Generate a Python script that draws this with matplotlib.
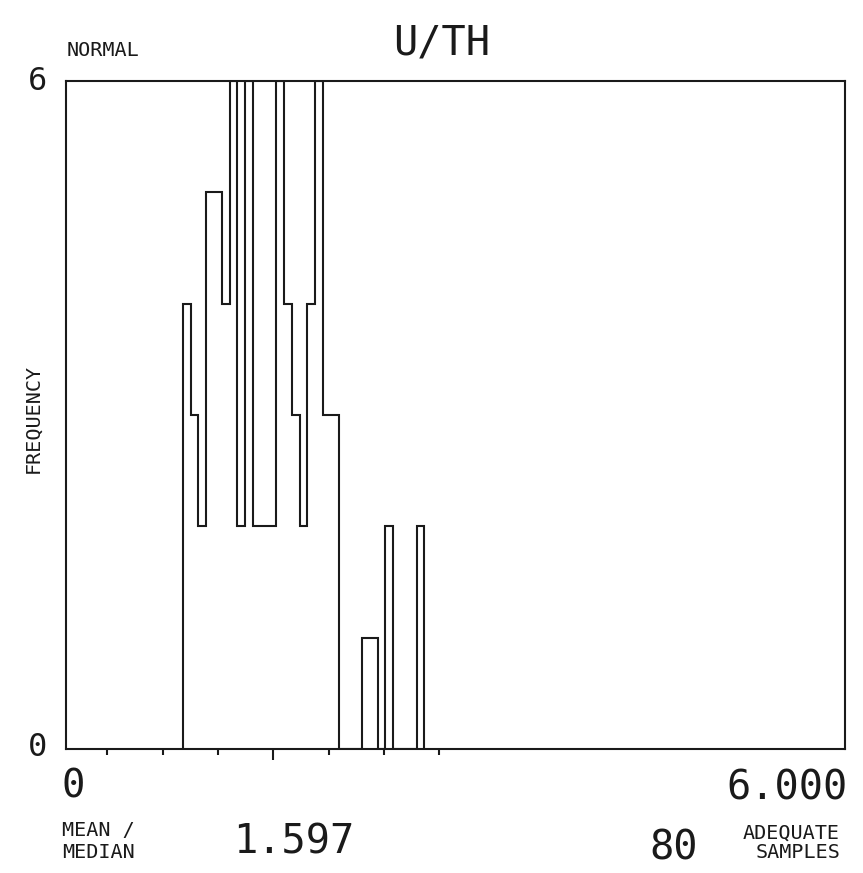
import numpy as np
import matplotlib
matplotlib.use("Agg")
import matplotlib.pyplot as plt

# данные гистограммы U/TH (шаг бина 0.06, первый бин начинается с 0.90)
bin_width = 0.06
first_edge = 0.90
counts = [4, 3, 2, 5, 5, 4, 6, 2, 6, 2, 2, 2, 6, 4, 3, 2, 4, 6, 3, 3,
          0, 0, 0, 1, 1, 0, 2, 0, 0, 0, 2]
mean_val = 1.597
sd_val = 0.426
n_samples = 80
x_max = 6.0
y_max = 6

edges = first_edge + bin_width * np.arange(len(counts) + 1)

ink = "#1a1a1a"
mono = "DejaVu Sans Mono"
W, H = 863, 873

fig = plt.figure(figsize=(W / 100, H / 100), dpi=100)
ax = fig.add_axes([66 / W, 1 - 749 / H, (845 - 66) / W, (749 - 81) / H])

ax.stairs(counts, edges, fill=False, baseline=0, color=ink, linewidth=1.5)

ax.set_xlim(0, x_max)
ax.set_ylim(0, y_max)
for s in ax.spines.values():
    s.set_color(ink)
    s.set_linewidth(1.5)

# засечки: среднее и +-1,2,3 сигмы
sig_ticks = [mean_val + k * sd_val for k in (-3, -2, -1, 1, 2, 3)]
ax.set_xticks([mean_val])
ax.set_xticks(sig_ticks, minor=True)
ax.tick_params(axis="x", which="major", direction="out", length=8, width=1.5,
               color=ink, labelbottom=False)
ax.tick_params(axis="x", which="minor", direction="out", length=4, width=1.5,
               color=ink)
ax.set_yticks([])


def px_text(x, y, s, size, ha="center", va="center", **kw):
    fig.text(x / W, 1 - y / H, s, fontsize=size, ha=ha, va=va,
             family=mono, color=ink, **kw)


px_text(67, 50, "NORMAL", 14.5, ha="left")
px_text(442, 43, "U/TH", 29)
px_text(37, 82, str(y_max), 23)
px_text(37, 748, "0", 23)
px_text(33, 418, "FREQUENCY", 14.5, rotation=90)

px_text(62, 786, "0", 28, ha="left")
px_text(848, 788, f"{x_max:.3f}", 29, ha="right")

px_text(62, 830, "MEAN /", 14.5, ha="left")
px_text(62, 853, "MEDIAN", 14.5, ha="left")
px_text(294, 843, f"{mean_val:.3f}", 29)
px_text(698, 848, str(n_samples), 29, ha="right")
px_text(840, 833, "ADEQUATE", 14.5, ha="right")
px_text(840, 853, "SAMPLES", 14.5, ha="right")

plt.savefig("out.png", dpi=100, facecolor="white")
